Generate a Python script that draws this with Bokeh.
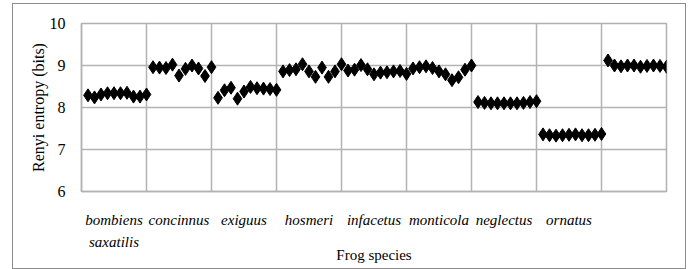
from bokeh.plotting import figure
from bokeh.models import FixedTicker, Range1d
from bokeh.embed import file_html
from bokeh.resources import INLINE

species = ["bombiens", "concinnus", "exiguus", "hosmeri", "infacetus",
           "monticola", "neglectus", "ornatus", "saxatilis"]
bombiens = [8.29, 8.24, 8.31, 8.34, 8.34, 8.34, 8.35, 8.26, 8.26, 8.31]
concinnus = [8.96, 8.95, 8.94, 9.02, 8.76, 8.92, 9.00, 8.93, 8.75, 8.96]
exiguus = [8.23, 8.41, 8.47, 8.21, 8.38, 8.49, 8.46, 8.45, 8.44, 8.42]
hosmeri = [8.86, 8.89, 8.91, 9.03, 8.86, 8.73, 8.95, 8.73, 8.86, 9.03]
infacetus = [8.88, 8.90, 9.01, 8.91, 8.79, 8.83, 8.84, 8.86, 8.87, 8.80]
monticola = [8.93, 8.96, 8.98, 8.94, 8.86, 8.79, 8.65, 8.72, 8.90, 9.00]
neglectus = [8.13, 8.11, 8.10, 8.10, 8.10, 8.10, 8.10, 8.11, 8.13, 8.15]
ornatus = [7.36, 7.34, 7.33, 7.34, 7.35, 7.36, 7.34, 7.34, 7.35, 7.37]
saxatilis = [9.12, 9.00, 8.98, 9.00, 9.00, 8.97, 8.99, 9.00, 8.99, 8.97]

tick_labels = ["bombiens\nsaxatilis", "concinnus", "exiguus", "hosmeri",
               "infacetus", "monticola", "neglectus", "ornatus"]
y_ticks = [6, 7, 8, 9, 10]

series = [bombiens, concinnus, exiguus, hosmeri, infacetus,
          monticola, neglectus, ornatus, saxatilis]
xs, ys = [], []
for g, vals in enumerate(series):
    for k, v in enumerate(vals):
        xs.append(g * len(vals) + k + 1)
        ys.append(v)
n_per = len(bombiens)
n_groups = len(series)

p = figure(width=674, height=266, output_backend="svg", toolbar_location=None,
           x_range=Range1d(0, n_groups * n_per), y_range=Range1d(6, 10),
           min_border_left=68, min_border_right=21, min_border_top=19,
           min_border_bottom=79)
p.styles = {"margin-left": "12px", "margin-top": "3px",
            "border": "1px solid #8c8c8c"}
p.outline_line_color = "#b0b0b0"
p.outline_line_width = 1.5

p.scatter(xs, ys, marker="diamond", size=13, color="black")

GRID = "#b3b3b3"
p.xgrid.ticker = FixedTicker(ticks=[n_per * i for i in range(1, n_groups)])
p.xgrid.grid_line_color = GRID
p.xgrid.grid_line_width = 1.5
p.ygrid.ticker = FixedTicker(ticks=y_ticks)
p.ygrid.grid_line_color = GRID
p.ygrid.grid_line_width = 1.5

xa = p.xaxis[0]
xa.ticker = FixedTicker(ticks=[n_per * i + n_per / 2 for i in range(len(tick_labels))])
xa.major_label_overrides = {n_per * i + n_per / 2: t for i, t in enumerate(tick_labels)}
xa.axis_line_color = GRID
xa.axis_line_width = 1.5
xa.major_tick_line_color = None
xa.minor_tick_line_color = None
xa.major_label_standoff = 14
xa.major_label_text_font = "Liberation Serif"
xa.major_label_text_font_style = "italic"
xa.major_label_text_font_size = "15px"
xa.major_label_text_line_height = 1.4
xa.major_label_text_color = "black"
xa.axis_label = "Frog species"
xa.axis_label_text_font = "Liberation Serif"
xa.axis_label_text_font_style = "normal"
xa.axis_label_text_font_size = "15px"
xa.axis_label_text_color = "black"
xa.axis_label_standoff = -6

ya = p.yaxis[0]
ya.ticker = FixedTicker(ticks=y_ticks)
ya.axis_line_color = GRID
ya.axis_line_width = 1.5
ya.major_tick_line_color = None
ya.minor_tick_line_color = None
ya.major_label_standoff = 10
ya.major_label_text_font = "Liberation Serif"
ya.major_label_text_font_size = "16px"
ya.major_label_text_color = "black"
ya.axis_label = "Renyi entropy (bits)"
ya.axis_label_text_font = "Liberation Serif"
ya.axis_label_text_font_style = "normal"
ya.axis_label_text_font_size = "16px"
ya.axis_label_text_color = "black"
ya.axis_label_standoff = 0

open("out.html", "w").write(file_html(p, INLINE))
